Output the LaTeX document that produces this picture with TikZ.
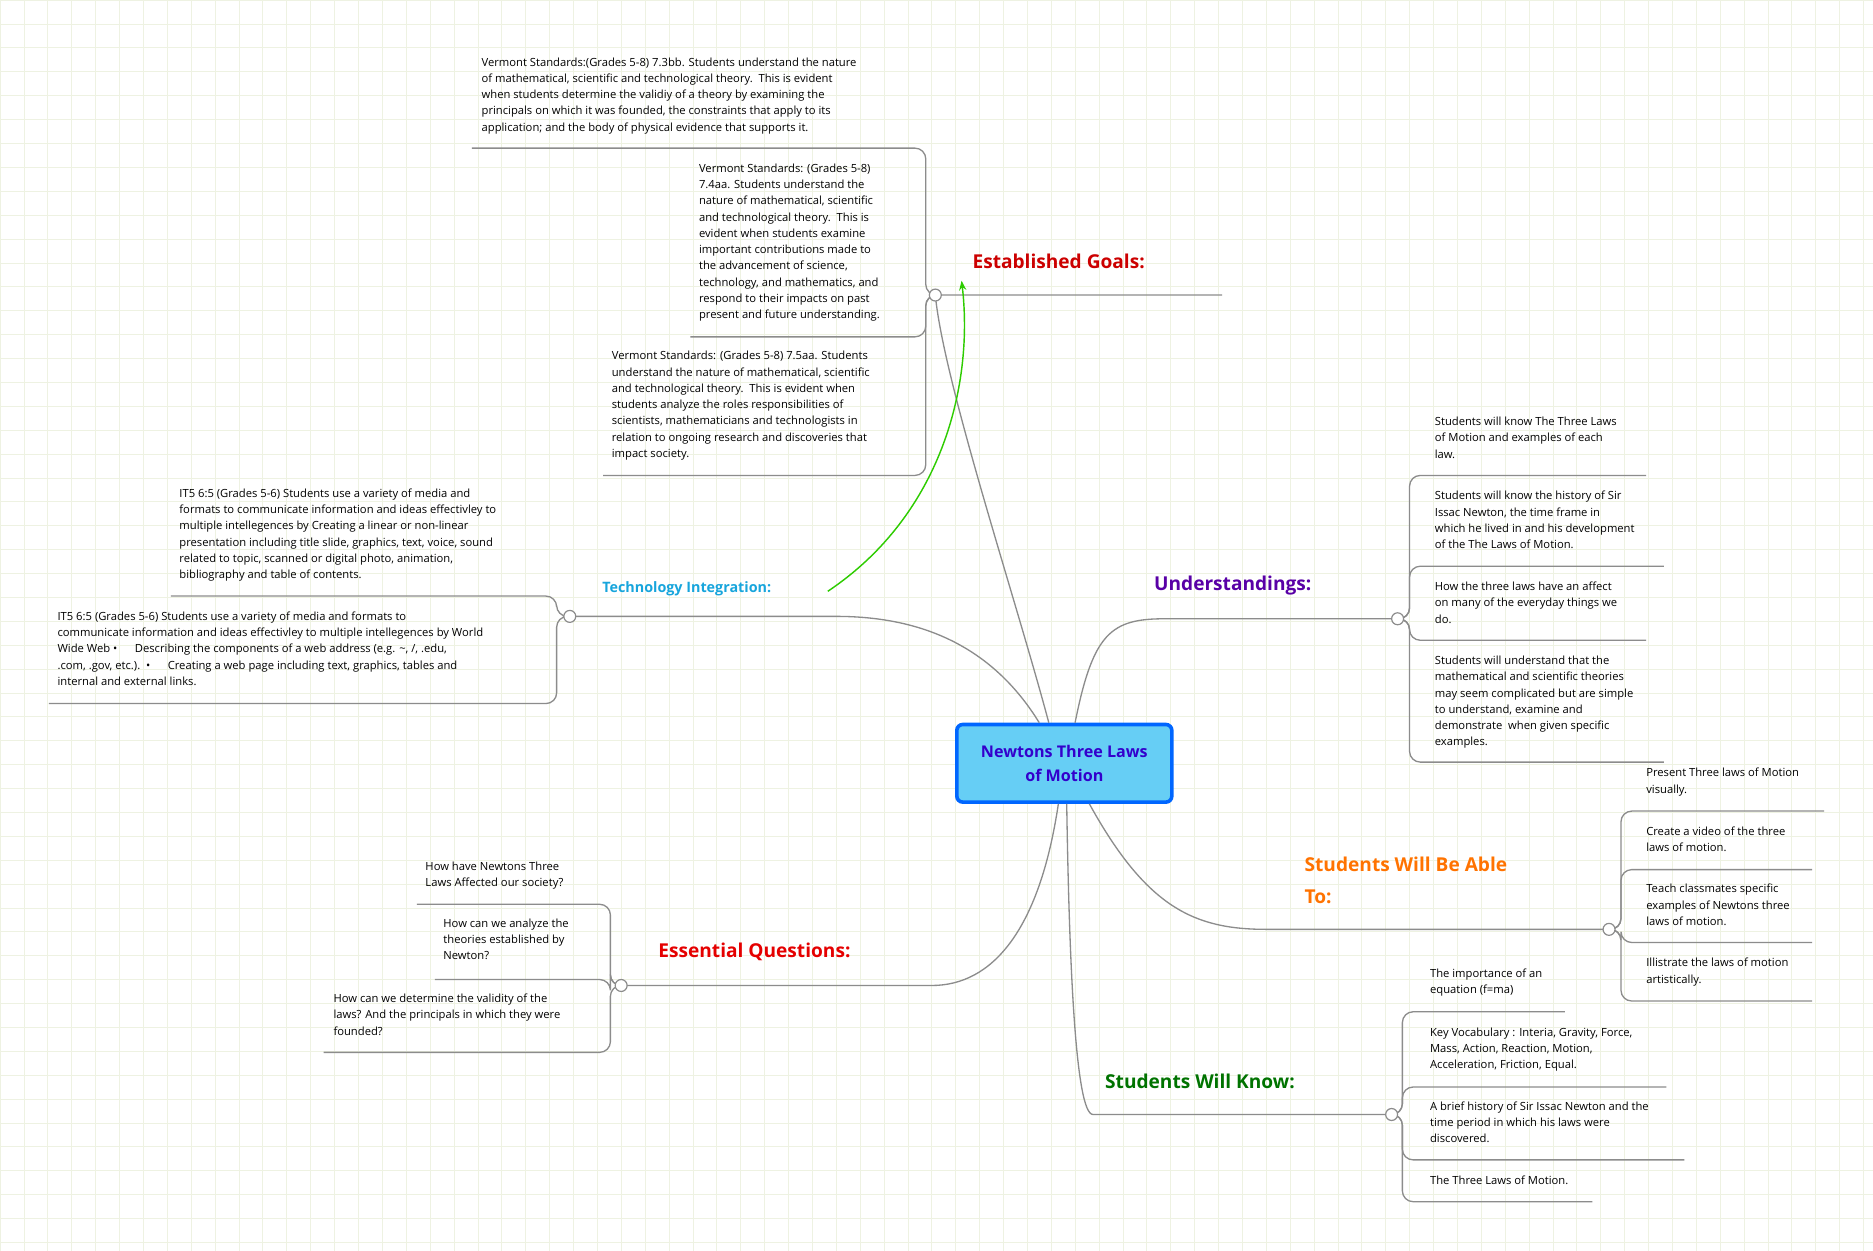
\documentclass[tikz,border=0pt]{standalone}
\usepackage{fontspec}
\setmainfont{Open Sans}
\usetikzlibrary{arrows.meta}
\definecolor{gridc}{HTML}{EEF2E2}
\definecolor{linec}{HTML}{8C8C8C}
\tikzset{
  conn/.style={draw=linec,line width=1.1pt,rounded corners=9pt},
  mainc/.style={draw=linec,line width=1.1pt},
  leaf/.style={inner sep=0pt,align=left,font=\fontsize{9.4}{13.6}\selectfont,text=black},
  ttl/.style={inner sep=0pt,align=left,font=\fontsize{16}{26}\selectfont\bfseries},
  knob/.style={draw=linec,fill=white,line width=1pt},
}
\newcommand{\leafat}[4]{\node[leaf,anchor=north west] (#1) at (#2,#3-7) {#4};}
\begin{document}
\begin{tikzpicture}[x=1pt,y=-1pt]
\useasboundingbox (0,0) rectangle (1568,1047);
\fill[white] (0,0) rectangle (1568,1047);
\foreach \i in {0,20,...,1560} \draw[gridc,line width=0.5pt] (\i,0) -- (\i,1047);
\foreach \j in {0,20,...,1040} \draw[gridc,line width=0.5pt] (0,\j) -- (1568,\j);
% center
\node[draw=blue!60!cyan,line width=3pt,fill=cyan!60!white,rounded corners=5pt,minimum width=180pt,minimum height=65pt,align=center,font=\fontsize{13.5}{20}\selectfont\bfseries,text=blue!60!violet] (c) at (891,639) {Newtons Three Laws\\of Motion};
\coordinate (g) at (783,247);
\coordinate (u) at (1170,518);
\coordinate (a) at (1347,778);
\coordinate (k) at (1165,933);
\coordinate (e) at (520,825);
\coordinate (t) at (477,516);
\draw[mainc] (878,605) .. controls (850,500) and (790,320) .. (g) -- (1023,247);
\draw[mainc] (900,605) .. controls (915,530) and (930,518) .. (975,518) -- (u);
\draw[mainc] (912,673) .. controls (960,760) and (1000,778) .. (1060,778) -- (a);
\draw[mainc] (893,673) .. controls (895,800) and (900,933) .. (915,933) -- (k);
\draw[mainc] (886,673) .. controls (870,780) and (830,825) .. (780,825) -- (e);
\draw[mainc] (870,605) .. controls (830,540) and (770,516) .. (700,516) -- (t);
\node[ttl,text=red!80!black,anchor=west] (gt) at (814,219) {Established Goals:};
\node[ttl,text=violet!70!blue,anchor=west] (ut) at (966,490) {Understandings:};
\node[ttl,text=orange!90!red,anchor=west] (at) at (1092,737) {Students Will Be Able\\To:};
\node[ttl,text=green!45!black,anchor=west] (kt) at (925,905) {Students Will Know:};
\node[ttl,text=red!90!black,anchor=west] (et) at (551,797) {Essential Questions:};
\node[ttl,font=\fontsize{12}{16}\selectfont\bfseries,text=cyan!80!teal,anchor=west] (tt) at (504,493) {Technology Integration:};
\coordinate (ga) at (693,495);
\draw[-{Stealth[length=8pt]},draw=green!70!lime!80!black,line width=1.2pt] (ga) .. controls (790,430) and (815,320) .. (805,235);
\leafat{g1}{403}{55}{Vermont Standards:(Grades 5-8) 7.3bb. Students understand the nature\\of mathematical, scientific and technological theory.\ \ This is evident\\when students determine the validiy of a theory by examining the\\principals on which it was founded, the constraints that apply to its\\application; and the body of physical evidence that supports it.}
\leafat{g2}{585}{144}{Vermont Standards: (Grades 5-8)\\7.4aa. Students understand the\\nature of mathematical, scientific\\and technological theory.\ \ This is\\evident when students examine\\important contributions made to\\the advancement of science,\\technology, and mathematics, and\\respond to their impacts on past\\present and future understanding.}
\leafat{g3}{512}{301}{Vermont Standards: (Grades 5-8) 7.5aa. Students\\understand the nature of mathematical, scientific\\and technological theory.\ \ This is evident when\\students analyze the roles responsibilities of\\scientists, mathematicians and technologists in\\relation to ongoing research and discoveries that\\impact society.}
\draw[conn] (g) -- (775,247) -- (775,124) -- (395,124);
\draw[conn] (g) -- (775,247) -- (775,282) -- (578,282);
\draw[conn] (g) -- (775,247) -- (775,398) -- (505,398);
\leafat{t1}{150}{416}{IT5 6:5 (Grades 5-6) Students use a variety of media and\\formats to communicate information and ideas effectivley to\\multiple intellegences by Creating a linear or non-linear\\presentation including title slide, graphics, text, voice, sound\\related to topic, scanned or digital photo, animation,\\bibliography and table of contents.}
\leafat{t2}{48}{519}{IT5 6:5 (Grades 5-6) Students use a variety of media and formats to\\communicate information and ideas effectivley to multiple intellegences by World\\Wide Web •\ \ \ \ \ \ Describing the components of a web address (e.g. \textasciitilde, /, .edu,\\.com, .gov, etc.).\ \ •\ \ \ \ \ \ Creating a web page including text, graphics, tables and\\internal and external links.}
\draw[conn] (t) -- (466,516) -- (466,499) -- (143,499);
\draw[conn] (t) -- (466,516) -- (466,589) -- (41,589);
\leafat{u1}{1201}{356}{Students will know The Three Laws\\of Motion and examples of each\\law.}
\leafat{u2}{1201}{418}{Students will know the history of Sir\\Issac Newton, the time frame in\\which he lived in and his development\\of the The Laws of Motion.}
\leafat{u3}{1201}{494}{How the three laws have an affect\\on many of the everyday things we\\do.}
\leafat{u4}{1201}{556}{Students will understand that the\\mathematical and scientific theories\\may seem complicated but are simple\\to understand, examine and\\demonstrate\ \ when given specific\\examples.}
\draw[conn] (u) -- (1180,518) -- (1180,398) -- (1378,398);
\draw[conn] (u) -- (1180,518) -- (1180,474) -- (1393,474);
\draw[conn] (u) -- (1180,518) -- (1180,536) -- (1378,536);
\draw[conn] (u) -- (1180,518) -- (1180,638) -- (1393,638);
\leafat{a1}{1378}{650}{Present Three laws of Motion\\visually.}
\leafat{a2}{1378}{699}{Create a video of the three\\laws of motion.}
\leafat{a3}{1378}{747}{Teach classmates specific\\examples of Newtons three\\laws of motion.}
\leafat{a4}{1378}{809}{Illistrate the laws of motion\\artistically.}
\draw[conn] (a) -- (1357,778) -- (1357,679) -- (1527,679);
\draw[conn] (a) -- (1357,778) -- (1357,728) -- (1517,728);
\draw[conn] (a) -- (1357,778) -- (1357,789) -- (1517,789);
\draw[conn] (a) -- (1357,778) -- (1357,838) -- (1517,838);
\leafat{k1}{1197}{818}{The importance of an\\equation (f=ma)}
\leafat{k2}{1197}{867}{Key Vocabulary : Interia, Gravity, Force,\\Mass, Action, Reaction, Motion,\\Acceleration, Friction, Equal.}
\leafat{k3}{1197}{929}{A brief history of Sir Issac Newton and the\\time period in which his laws were\\discovered.}
\leafat{k4}{1197}{991}{The Three Laws of Motion.}
\draw[conn] (k) -- (1174,933) -- (1174,847) -- (1310,847);
\draw[conn] (k) -- (1174,933) -- (1174,910) -- (1395,910);
\draw[conn] (k) -- (1174,933) -- (1174,971) -- (1410,971);
\draw[conn] (k) -- (1174,933) -- (1174,1006) -- (1333,1006);
\leafat{e1}{356}{728}{How have Newtons Three\\Laws Affected our society?}
\leafat{e2}{371}{776}{How can we analyze the\\theories established by\\Newton?}
\leafat{e3}{279}{839}{How can we determine the validity of the\\laws? And the principals in which they were\\founded?}
\draw[conn] (e) -- (511,825) -- (511,757) -- (349,757);
\draw[conn] (e) -- (511,825) -- (511,820) -- (364,820);
\draw[conn] (e) -- (511,825) -- (511,881) -- (271,881);
\foreach \p in {g,u,a,k,e,t} \draw[knob] (\p) circle (5);
\end{tikzpicture}
\end{document}
